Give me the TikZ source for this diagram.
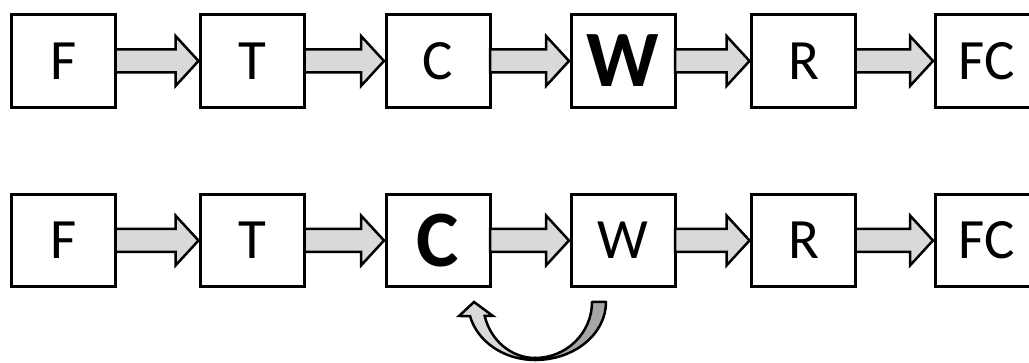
\documentclass[tikz,border=0pt]{standalone}
\usepackage{fontspec}
\setmainfont{Carlito}
\usetikzlibrary{calc}
\definecolor{arrowfill}{HTML}{D9D9D9}
\definecolor{darkfill}{HTML}{A6A6A6}
\tikzset{
  box/.style={draw=black, line width=3pt, fill=white, minimum width=104pt,
    minimum height=93pt, inner sep=0pt, outer sep=0pt,
    font=\fontsize{57}{57}\selectfont},
  boldbox/.style={box, font=\fontsize{80}{80}\selectfont\bfseries},
  lowbox/.style={minimum height=92pt},
  barrow/.style={draw=black, line width=2.5pt, fill=arrowfill, line join=miter},
  curvedark/.style={draw=black, line width=2.5pt, fill=darkfill, line join=round},
  curvelight/.style={draw=black, line width=2.5pt, fill=arrowfill, line join=miter},
}
\newcommand\blockarr[2]{%
  \draw[barrow] ($(#1.east)+(0,11.5)$) -- ($(#2.west)+(-25,11.5)$)
    -- ($(#2.west)+(-25,25)$) -- ($(#2.west)+(-2,0)$)
    -- ($(#2.west)+(-25,-25)$) -- ($(#2.west)+(-25,-11.5)$)
    -- ($(#1.east)+(0,-11.5)$) -- cycle;}
\begin{document}
\begin{tikzpicture}[x=1pt,y=1pt]
\useasboundingbox (0,0) rectangle (1029,363);
% top row
\node[box] (F1) at (63.5,302) {F};
\node[box] (T1) at (252.5,302) {T};
\node[box] (C1) at (438,302) {C};
\node[boldbox] (W1) at (623,302) {W};
\node[box] (R1) at (803.5,302) {R};
\node[box] (FC1) at (987,302) {FC};
\blockarr{F1}{T1}
\blockarr{T1}{C1}
\blockarr{C1}{W1}
\blockarr{W1}{R1}
\blockarr{R1}{FC1}
% bottom row
\node[box,lowbox] (F2) at (63.5,122.5) {F};
\node[box,lowbox] (T2) at (252.5,122.5) {T};
\node[boldbox,lowbox] (C2) at (438,122.5) {C};
\node[box,lowbox] (W2) at (623,122.5) {W};
\node[box,lowbox] (R2) at (803.5,122.5) {R};
\node[box,lowbox] (FC2) at (987,122.5) {FC};
\blockarr{F2}{T2}
\blockarr{T2}{C2}
\blockarr{C2}{W2}
\blockarr{W2}{R2}
\blockarr{R2}{FC2}
% curved arrow from W back to C
\coordinate (cc) at ($(C2.south)!0.5!(W2.south)+(4.5,-15.5)$);
\begin{scope}[shift={(cc)}]
  \draw[curvedark] (57,0) -- (71,0) arc[start angle=0,end angle=-90,x radius=71,y radius=58]
    -- (0,-56) arc[start angle=270,end angle=360,x radius=57,y radius=56] -- cycle;
  \draw[curvelight] (0,-58) arc[start angle=270,end angle=194,x radius=67,y radius=58]
    -- (-76,-14) -- (-61,0) -- (-42,-14) -- (-50.3,-14)
    arc[start angle=194.5,end angle=270,x radius=52,y radius=56] -- cycle;
\end{scope}
\end{tikzpicture}
\end{document}
